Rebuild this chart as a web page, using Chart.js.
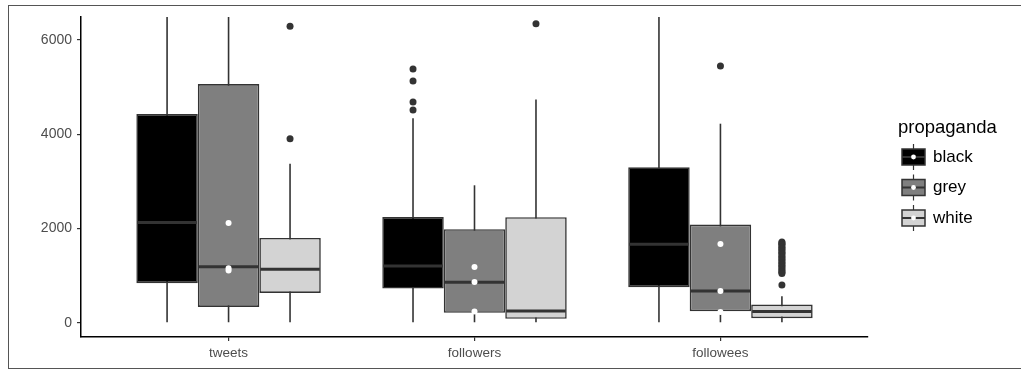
<!DOCTYPE html>
<html>
<head>
<meta charset="utf-8">
<script src="https://cdn.jsdelivr.net/npm/chart.js@4.4.1/dist/chart.umd.min.js"></script>
<style>
  body { margin: 0; background: #fff; }
  #wrap { position: relative; width: 1021px; height: 371px; overflow: hidden; }
  #myChart { display: block; }
  #frame { position: absolute; left: 8px; top: 5px; width: 1100px; height: 364px; box-sizing: border-box;
           border: 1.5px solid #555; pointer-events: none; }
</style>
</head>
<body>
<div id="wrap">
  <canvas id="myChart" width="1021" height="371"></canvas>
  <div id="frame"></div>
</div>
<script>
const categories = ['tweets', 'followers', 'followees'];
const groups = ['black', 'grey', 'white'];
const fills = ['#000000', '#7f7f7f', '#d3d3d3'];
const yTicks = [0, 2000, 4000, 6000];

// box stats, [group][category]
const whiskerLow = [[0, 0, 0], [0, 0, 0], [0, 0, 0]];
const q1 = [[842, 727, 757], [339, 212, 247], [636, 85, 99]];
const median = [[2127, 1208, 1668], [1193, 863, 678], [1138, 254, 240]];
const q3 = [[4431, 2247, 3301], [5067, 1986, 2085], [1802, 2241, 389]];
const whiskerHigh = [[6600, 4339, 6600], [6600, 2919, 4226], [3377, 4742, 566]];

const outliers = [
  [[], [5385, 5130, 4685, 4516], []],
  [[], [], [5448]],
  [[6296, 3907], [6345], [1717, 1702, 1668, 1655, 1610, 1596, 1560, 1532, 1498, 1470, 1441, 1405,
                          1380, 1342, 1318, 1280, 1255, 1221, 1190, 1163, 1128, 1102, 1075, 1048, 806]]
];

// white dots, all sitting on the grey box of each category
const whiteDots = [[2120, 1160, 1110], [1187, 869, 240], [1675, 678, 233]];

const boxFrac = 0.75;
const off = g => (g - 1) * boxFrac / 3;
const font = '"Liberation Sans", Arial, sans-serif';

const datasets = [];
groups.forEach((name, g) => {
  datasets.push({
    type: 'bar', label: name, stack: name, order: 2,
    data: categories.map((c, i) => ({ x: i, y: [q1[g][i], q3[g][i]] })),
    backgroundColor: fills[g], borderColor: '#333', borderWidth: 1.6, borderSkipped: false,
    categoryPercentage: boxFrac, barPercentage: 1
  });
  datasets.push({
    type: 'bar', label: name + ' whisker', stack: name, order: 3, clip: 0,
    data: categories.map((c, i) => ({ x: i, y: [whiskerLow[g][i], whiskerHigh[g][i]] })),
    backgroundColor: '#333', borderWidth: 0,
    categoryPercentage: boxFrac, barPercentage: 1, maxBarThickness: 1.6
  });
  datasets.push({
    type: 'scatter', label: name + ' median', order: 1,
    data: categories.map((c, i) => ({ x: i + off(g), y: median[g][i] })),
    pointStyle: 'line', pointBorderColor: '#333', pointBorderWidth: 3,
    pointRadius: ctx => {
      const s = ctx.chart.scales.x;
      return (s.getPixelForValue(boxFrac / 3) - s.getPixelForValue(0)) / 2 - 1;
    }
  });
  datasets.push({
    type: 'scatter', label: name + ' outliers', order: 0,
    data: categories.flatMap((c, i) => outliers[g][i].map(v => ({ x: i + off(g), y: v }))),
    pointRadius: 3.5, pointBackgroundColor: '#333', pointBorderWidth: 0
  });
});
datasets.push({
  type: 'scatter', label: 'dots', order: 0,
  data: categories.flatMap((c, i) => whiteDots[i].map(v => ({ x: i + off(1), y: v }))),
  pointRadius: 3, pointBackgroundColor: '#ffffff', pointBorderWidth: 0
});

// ggplot-style legend with boxplot keys
const boxLegend = {
  id: 'boxLegend',
  afterDraw(chart) {
    const { ctx, chartArea } = chart;
    const x0 = chartArea.right + 34, w = 23, h = 16;
    ctx.save();
    ctx.fillStyle = '#000';
    ctx.font = '18.5px ' + font;
    ctx.textBaseline = 'alphabetic';
    ctx.fillText('propaganda', chartArea.right + 30, chartArea.top + 116);
    groups.forEach((name, g) => {
      const cy = chartArea.top + 140 + g * 30.5;
      const cx = x0 + w / 2;
      ctx.strokeStyle = '#333';
      ctx.lineWidth = 1.2;
      ctx.beginPath(); ctx.moveTo(cx, cy - 13); ctx.lineTo(cx, cy + 13); ctx.stroke();
      ctx.fillStyle = fills[g];
      ctx.fillRect(x0, cy - h / 2, w, h);
      ctx.lineWidth = 1.5;
      ctx.strokeRect(x0, cy - h / 2, w, h);
      ctx.lineWidth = 2;
      ctx.beginPath(); ctx.moveTo(x0, cy); ctx.lineTo(x0 + w, cy); ctx.stroke();
      ctx.fillStyle = '#fff';
      ctx.beginPath(); ctx.arc(cx, cy, 2.4, 0, Math.PI * 2); ctx.fill();
      ctx.fillStyle = '#000';
      ctx.font = '17px ' + font;
      ctx.textBaseline = 'middle';
      ctx.fillText(name, chartArea.right + 65, cy);
    });
    ctx.restore();
  }
};

new Chart(document.getElementById('myChart'), {
  type: 'bar',
  data: { datasets },
  options: {
    responsive: false,
    animation: false,
    devicePixelRatio: 1,
    layout: { padding: { top: 17, right: 153, left: 0, bottom: 0 } },
    plugins: { legend: { display: false }, tooltip: { enabled: false } },
    scales: {
      x: {
        type: 'linear', min: -0.6, max: 2.6, offset: false,
        afterFit: s => { s.height = 34; },
        afterBuildTicks: s => { s.ticks = categories.map((c, i) => ({ value: i })); },
        grid: { display: true, drawOnChartArea: false, drawTicks: true, tickLength: 4, color: '#333', lineWidth: 1.2, offset: false },
        border: { display: true, color: '#000', width: 1.5 },
        ticks: { color: '#4d4d4d', padding: 4, font: { family: font, size: 13.5 }, callback: v => categories[v] }
      },
      y: {
        min: -300, max: 6490, stacked: false,
        afterFit: s => { s.width = 81; },
        afterBuildTicks: s => { s.ticks = yTicks.map(v => ({ value: v })); },
        grid: { display: true, drawOnChartArea: false, drawTicks: true, tickLength: 4, color: '#333', lineWidth: 1.2 },
        border: { display: true, color: '#000', width: 1.5 },
        ticks: { color: '#4d4d4d', padding: 5, font: { family: font, size: 14 }, callback: v => String(v) }
      }
    }
  },
  plugins: [boxLegend]
});
</script>
</body>
</html>
